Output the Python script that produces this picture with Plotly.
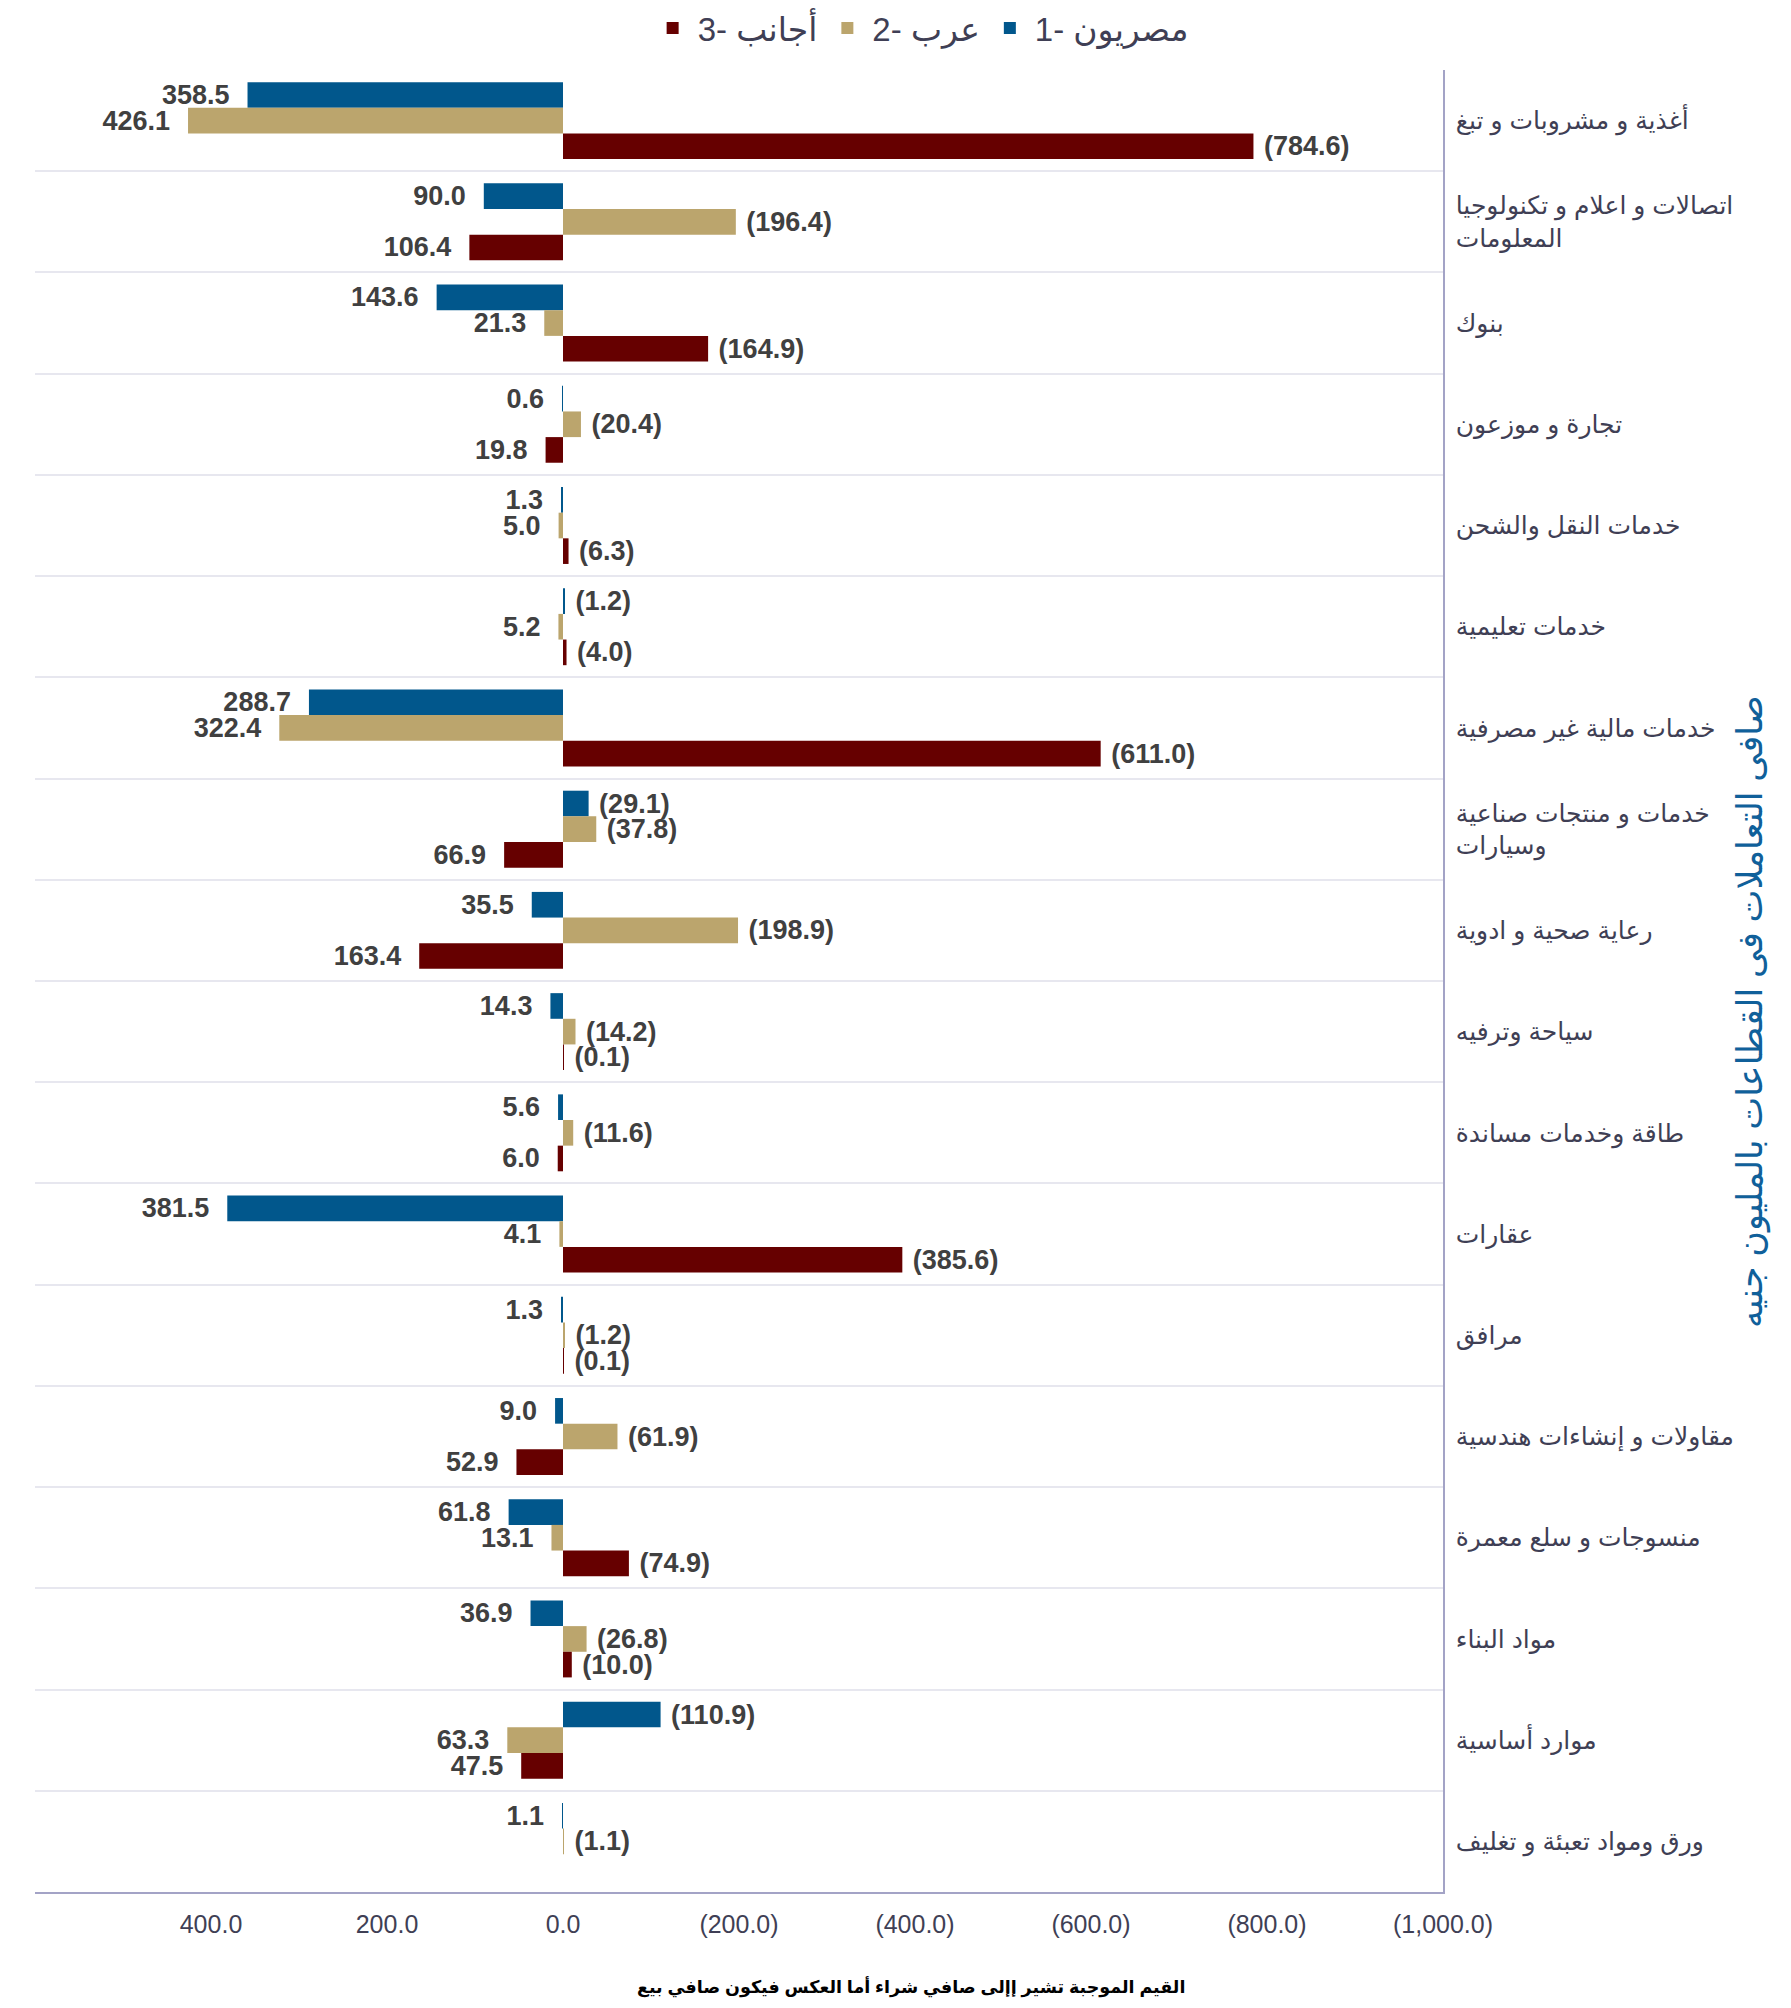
import plotly.graph_objects as go

categories = [
    "أغذية و مشروبات و تبغ",
    "اتصالات و اعلام و تكنولوجيا<br>المعلومات",
    "بنوك",
    "تجارة و موزعون",
    "خدمات النقل والشحن",
    "خدمات تعليمية",
    "خدمات مالية غير مصرفية",
    "خدمات و منتجات صناعية<br>وسيارات",
    "رعاية صحية و ادوية",
    "سياحة وترفيه",
    "طاقة وخدمات مساندة",
    "عقارات",
    "مرافق",
    "مقاولات و إنشاءات هندسية",
    "منسوجات و سلع معمرة",
    "مواد البناء",
    "موارد أساسية",
    "ورق ومواد تعبئة و تغليف",
]

egyptians = [358.5, 90.0, 143.6, 0.6, 1.3, -1.2, 288.7, -29.1, 35.5, 14.3, 5.6, 381.5, 1.3, 9.0, 61.8, 36.9, -110.9, 1.1]
arabs = [426.1, -196.4, 21.3, -20.4, 5.0, 5.2, 322.4, -37.8, -198.9, -14.2, -11.6, 4.1, -1.2, -61.9, 13.1, -26.8, 63.3, -1.1]
foreigners = [-784.6, 106.4, -164.9, 19.8, -6.3, -4.0, -611.0, 66.9, 163.4, -0.1, 6.0, -385.6, -0.1, 52.9, -74.9, -10.0, 47.5, None]

series_names = ["1- مصريون", "2- عرب", "3- أجانب"]
series_colors = ["#01578c", "#bba56d", "#660000"]

tick_values = [400, 200, 0, -200, -400, -600, -800, -1000]
tick_labels = ["400.0", "200.0", "0.0", "(200.0)", "(400.0)", "(600.0)", "(800.0)", "(1,000.0)"]

y_title = "صافى التعاملات فى القطاعات بالمليون جنيه"
note = "القيم الموجبة تشير إإلى صافي شراء أما العكس فيكون صافي بيع"

NB = "\u00a0"


def fmt(v):
    if v is None:
        return ""
    if v < 0:
        return NB + "({:,.1f})".format(-v)
    return "{:,.1f}".format(v) + NB + NB


fig = go.Figure()
for name, vals, color in zip(series_names, [egyptians, arabs, foreigners], series_colors):
    fig.add_trace(go.Bar(
        y=categories, x=vals, name=name, orientation="h",
        marker=dict(color=color, line=dict(width=0)),
        text=[fmt(v) for v in vals], textposition="outside",
        textfont=dict(family="Liberation Sans, Arial", size=27, color="#404040", weight="bold"),
        constraintext="none", cliponaxis=False,
    ))

axis_color = "#a3a3c6"
text_color = "#3f3f55"

fig.update_layout(
    width=1791, height=2008,
    paper_bgcolor="white", plot_bgcolor="white",
    margin=dict(l=27, r=356, t=62, b=124, autoexpand=False),
    barmode="group", bargap=0.24, bargroupgap=0,
    font=dict(family="Liberation Sans, Arial, DejaVu Sans", color=text_color),
    legend=dict(orientation="h", x=0.629, xanchor="center", y=1.023, yanchor="middle",
                traceorder="reversed", itemwidth=40, font=dict(size=33, color=text_color)),
    xaxis=dict(range=[600, -1000], tickvals=tick_values, ticktext=tick_labels,
               showgrid=False, zeroline=False, showline=True, linecolor=axis_color, linewidth=1.5,
               ticks="", ticklabelstandoff=9, automargin=False,
               tickfont=dict(size=25, color=text_color)),
    yaxis=dict(type="category", categoryorder="array", categoryarray=categories,
               autorange="reversed", side="right", tickson="boundaries",
               showgrid=True, gridcolor="#e7e7ef", gridwidth=1.5,
               showline=True, linecolor=axis_color, linewidth=1.5,
               ticks="", ticklabelstandoff=6, automargin=False,
               tickfont=dict(size=25, color=text_color)),
    annotations=[
        dict(text=y_title, xref="paper", yref="paper", x=1.218, y=0.4835,
             xanchor="center", yanchor="middle", textangle=-90, showarrow=False,
             font=dict(size=35, color="#10609a")),
        dict(text="<b>" + note + "</b>", xref="paper", yref="paper", x=0.622, y=-0.052,
             xanchor="center", yanchor="middle", showarrow=False,
             font=dict(size=17.5, color="#000000")),
    ],
)

fig.write_html("out.html")
